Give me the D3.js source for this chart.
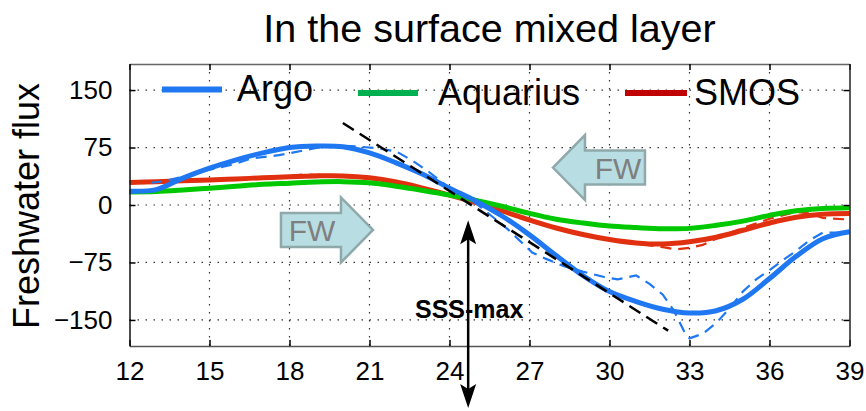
<!DOCTYPE html>
<html>
<head>
<meta charset="utf-8">
<script src="https://cdn.jsdelivr.net/npm/d3@7"></script>
<style>
  body { margin: 0; background: #fff; }
  svg { font-family: "Liberation Sans", Arial, Helvetica, sans-serif; }
</style>
</head>
<body>
<div id="chart"></div>
<script>
// Data (x = salinity-ish axis, y = freshwater flux)
const xTicks = [12, 15, 18, 21, 24, 27, 30, 33, 36, 39];
const yTicks = [-150, -75, 0, 75, 150];

const xs = [12, 13, 14, 15, 16, 17, 18, 19, 20, 21, 22, 23, 24, 25, 26, 27, 28, 29, 30, 31, 32, 33, 34, 35, 36, 37, 38, 39];
const argo = [18, 20, 35, 48, 59, 68, 75, 77, 76, 68, 55, 40, 22, 5, -15, -39, -66, -92, -113, -126, -136, -141, -138, -123, -96, -67, -44, -35];
const aquarius = [17, 17.5, 19.5, 22, 24.5, 27, 28.5, 30, 30.5, 29, 24.5, 19, 13, 6, -2, -11, -18.5, -23.5, -27.5, -29.5, -31, -30.5, -26.5, -21, -13.5, -7.5, -4.5, -3.5];
const smos = [29.5, 30.5, 31.5, 32.5, 34, 35.5, 37, 38, 38, 35.5, 30, 22, 13, 3, -8, -19.5, -30, -38.5, -45, -49.5, -51, -48, -42, -33, -23.5, -16, -12, -11];

// dashed (raw) versions
const argoDashX = [12.8, 13.3, 14, 15, 15.9, 16.6, 17.6, 18.5, 19.5, 20.3, 21.3, 22.0, 22.6, 23.2, 24, 25, 25.6, 26.2, 27.1, 27.6, 28.3, 29, 29.8, 30.3, 31, 31.5, 32, 32.4, 32.8, 33.0, 33.5, 34.0, 34.5, 35, 35.5, 36, 36.5, 37, 37.5, 38, 38.5, 39];
const argoDash = [29, 31, 37, 46, 53, 61, 65, 71, 78, 77, 74, 70, 58, 44, 22, 2, -15, -32, -62, -70, -80, -87, -94, -97, -92, -103, -117, -137, -165, -174, -168, -154, -135, -113, -97, -85, -72, -60, -46, -36, -36, -35];
const aquaDashX = [12, 14, 16, 18, 20, 22, 24, 26, 28, 30, 31, 32.7, 33, 34, 35, 36.5, 37.5, 39];
const aquaDash = [17, 20, 25, 29, 31, 25, 13, -2, -19, -27, -30, -33, -31, -27, -21, -10, -6, -3];
const smosDashX = [12, 14, 16, 18, 18.6, 20, 22, 24, 26, 28, 30, 31, 32, 32.5, 33, 33.5, 34, 35, 36, 37, 37.5, 38, 39];
const smosDash = [30, 31, 34, 38, 40, 38, 30, 13, -8, -31, -46, -50, -55, -58, -56, -52, -44, -30, -18, -9, -11, -17, -19];

const tangentX = [20.0, 32.2];
const tangentY = [107, -164];

const seriesNames = ['Argo', 'Aquarius', 'SMOS'];

const W = 866, H = 411;
const svg = d3.select('#chart').append('svg').attr('width', W).attr('height', H);

const x = d3.scaleLinear().domain([12, 39]).range([129.5, 849.5]);
const y = d3.scaleLinear().domain([-184, 184]).range([346, 64]);

// grid
const grid = svg.append('g');
grid.selectAll('.gx').data(xTicks.slice(1, -1)).enter().append('line')
  .attr('x1', d => x(d)).attr('x2', d => x(d))
  .attr('y1', y(184)).attr('y2', y(-184))
  .attr('stroke', '#333').attr('stroke-width', 1.2).attr('stroke-dasharray', '1.5,6.5');
grid.selectAll('.gy').data(yTicks).enter().append('line')
  .attr('x1', x(12)).attr('x2', x(39))
  .attr('y1', d => y(d)).attr('y2', d => y(d))
  .attr('stroke', '#333').attr('stroke-width', 1.2).attr('stroke-dasharray', '1.5,6.5');

// FW arrows (annotation)
function fwArrow(tipX, tipY, dir) {
  const tx = x(tipX), ty = y(tipY);
  const head = 32, body = 60, hh = 32.5, bh = 17;
  const s = dir; // 1 = right pointing, -1 = left pointing
  const pts = [
    [tx, ty],
    [tx - s * head, ty - hh],
    [tx - s * head, ty - bh],
    [tx - s * (head + body), ty - bh],
    [tx - s * (head + body), ty + bh],
    [tx - s * head, ty + bh],
    [tx - s * head, ty + hh]
  ];
  svg.append('polygon')
    .attr('points', pts.map(p => p.join(',')).join(' '))
    .attr('fill', '#b8dde2').attr('stroke', '#8fa9ab').attr('stroke-width', 2.5)
    .attr('stroke-linejoin', 'miter');
  svg.append('text')
    .attr('x', tx - s * (head + body / 2) + (s > 0 ? 1 : 3)).attr('y', ty + 11)
    .attr('text-anchor', 'middle').attr('font-size', 30).attr('fill', '#7f7f7f')
    .text('FW');
}
fwArrow(21.13, -32.6, 1);
fwArrow(27.88, 48.9, -1);

// lines
const line = d3.line().x(d => x(d[0])).y(d => y(d[1])).curve(d3.curveCatmullRom.alpha(0.5));
const rawLine = d3.line().x(d => x(d[0])).y(d => y(d[1]));

const dashStyle = '11,7';
svg.append('path').datum(d3.zip(smosDashX, smosDash)).attr('d', rawLine)
  .attr('fill', 'none').attr('stroke', '#e03010').attr('stroke-width', 2.2).attr('stroke-dasharray', dashStyle);
svg.append('path').datum(d3.zip(xs, smos)).attr('d', line)
  .attr('fill', 'none').attr('stroke', '#e03010').attr('stroke-width', 5);
svg.append('path').datum(d3.zip(aquaDashX, aquaDash)).attr('d', rawLine)
  .attr('fill', 'none').attr('stroke', '#00c400').attr('stroke-width', 2.2).attr('stroke-dasharray', dashStyle);
svg.append('path').datum(d3.zip(xs, aquarius)).attr('d', line)
  .attr('fill', 'none').attr('stroke', '#00c800').attr('stroke-width', 5);
svg.append('path').datum(d3.zip(argoDashX, argoDash)).attr('d', rawLine)
  .attr('fill', 'none').attr('stroke', '#1f77f2').attr('stroke-width', 2.2).attr('stroke-dasharray', dashStyle);
svg.append('path').datum(d3.zip(xs, argo)).attr('d', line)
  .attr('fill', 'none').attr('stroke', '#1f77f2').attr('stroke-width', 5);

// tangent
svg.append('path').datum(d3.zip(tangentX, tangentY)).attr('d', rawLine)
  .attr('fill', 'none').attr('stroke', '#000').attr('stroke-width', 2.5).attr('stroke-dasharray', '13,7');

// axes
const yAxis = d3.axisLeft(y).tickValues(yTicks).tickSizeInner(-6).tickSizeOuter(0).tickPadding(17)
  .tickFormat(d => d < 0 ? '\u2212' + Math.abs(d) : d);
const yAxisR = d3.axisRight(y).tickValues(yTicks).tickSizeInner(-6).tickSizeOuter(0).tickFormat('');
const xAxis = d3.axisBottom(x).tickValues(xTicks).tickSizeInner(-6).tickSizeOuter(0).tickPadding(15.5);
const xAxisT = d3.axisTop(x).tickValues(xTicks).tickSizeInner(-6).tickSizeOuter(0).tickFormat('');

function styleAxis(g, col) {
  g.selectAll('path').attr('stroke', col).attr('stroke-width', 1.5);
  g.selectAll('line').attr('stroke', '#000').attr('stroke-width', 1.5);
  g.selectAll('text').attr('font-size', 26).attr('fill', '#000')
    .attr('font-family', '"Liberation Sans", Arial, sans-serif');
}
svg.append('g').attr('transform', `translate(0,${y(-184)})`).call(xAxis).call(g => styleAxis(g, '#555'));
svg.append('g').attr('transform', `translate(0,${y(184)})`).call(xAxisT).call(g => styleAxis(g, '#666'));
svg.append('g').attr('transform', `translate(${x(12)},0)`).call(yAxis).call(g => styleAxis(g, '#111'));
svg.append('g').attr('transform', `translate(${x(39)},0)`).call(yAxisR).call(g => styleAxis(g, '#222'));

// SSS-max arrow
const ax = x(24.7), aTop = y(-20), aBot = y(-265);
svg.append('text').attr('x', x(24.7) + 1).attr('y', y(-147))
  .attr('text-anchor', 'middle').attr('font-size', 25).attr('font-weight', 'bold').text('SSS-max');
svg.append('line').attr('x1', ax).attr('x2', ax).attr('y1', aTop + 10).attr('y2', aBot - 10)
  .attr('stroke', '#000').attr('stroke-width', 2.5);
svg.append('path')
  .attr('d', `M${ax},${aTop} L${ax + 8},${aTop + 24} L${ax},${aTop + 19} L${ax - 8},${aTop + 24} Z`)
  .attr('fill', '#000');
svg.append('path')
  .attr('d', `M${ax},${aBot} L${ax + 8},${aBot - 24} L${ax},${aBot - 19} L${ax - 8},${aBot - 24} Z`)
  .attr('fill', '#000');

// legend
const legend = [
  {name: seriesNames[0], color: '#1f77f2', x1: 162, x2: 222, ly: 89.5, tx: 237, ty: 101},
  {name: seriesNames[1], color: '#00b050', x1: 358, x2: 418, ly: 93, tx: 438, ty: 105},
  {name: seriesNames[2], color: '#c00000', x1: 625, x2: 687, ly: 93, tx: 694, ty: 105}
];
legend.forEach(l => {
  svg.append('line').attr('x1', l.x1).attr('x2', l.x2).attr('y1', l.ly).attr('y2', l.ly)
    .attr('stroke', l.color).attr('stroke-width', 6);
  svg.append('text').attr('x', l.tx).attr('y', l.ty).attr('font-size', 36).text(l.name);
});

// title and y label
svg.append('text').attr('x', 489.5).attr('y', 42).attr('text-anchor', 'middle')
  .attr('font-size', 39.5).text('In the surface mixed layer');
svg.append('text').attr('transform', 'translate(39,206) rotate(-90)').attr('text-anchor', 'middle')
  .attr('font-size', 36).text('Freshwater flux');
</script>
</body>
</html>
